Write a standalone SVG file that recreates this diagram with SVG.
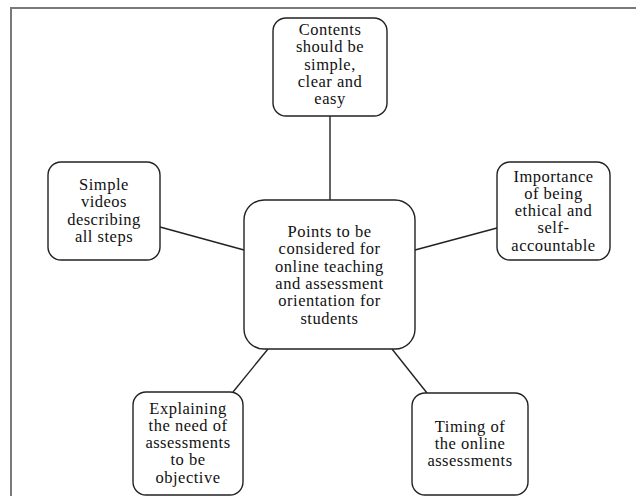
<svg xmlns="http://www.w3.org/2000/svg" width="636" height="496" viewBox="0 0 636 496">
<style>
.frame{fill:none;stroke:#7a7a7a;stroke-width:2}
.box{fill:#fff;stroke:#222;stroke-width:1.4}
.lbl{font-family:"Liberation Serif","Times New Roman",serif;font-size:16.5px;letter-spacing:0.5px;fill:#111;text-anchor:middle}
.edge{stroke:#222;stroke-width:1.4;fill:none}
</style>
<rect width="636" height="496" fill="#fff"/>
<rect class="frame" x="11" y="8" width="640" height="500"/>
<g id="connectors">
<line class="edge" x1="330" y1="116" x2="330" y2="200"/>
<line class="edge" x1="160" y1="227" x2="244" y2="250"/>
<line class="edge" x1="415" y1="250" x2="497" y2="228"/>
<line class="edge" x1="268" y1="349" x2="233" y2="392"/>
<line class="edge" x1="392" y1="349" x2="427" y2="393"/>
</g>
<g id="node-top">
<rect class="box" x="273" y="18" width="114" height="98" rx="13"/>
<text class="lbl"><tspan x="330" y="35">Contents</tspan><tspan x="330" y="52.3">should be</tspan><tspan x="330" y="69.6">simple,</tspan><tspan x="330" y="86.9">clear and</tspan><tspan x="330" y="104.2">easy</tspan></text>
</g>
<g id="node-left">
<rect class="box" x="48" y="162" width="112" height="98" rx="13"/>
<text class="lbl"><tspan x="104" y="190">Simple</tspan><tspan x="104" y="207.3">videos</tspan><tspan x="104" y="224.6">describing</tspan><tspan x="104" y="241.9">all steps</tspan></text>
</g>
<g id="node-right">
<rect class="box" x="497" y="162" width="113" height="98" rx="13"/>
<text class="lbl"><tspan x="553.5" y="181.5">Importance</tspan><tspan x="553.5" y="198.8">of being</tspan><tspan x="553.5" y="216.1">ethical and</tspan><tspan x="553.5" y="233.4">self-</tspan><tspan x="553.5" y="250.7">accountable</tspan></text>
</g>
<g id="node-center">
<rect class="box" x="244" y="200" width="171" height="149" rx="20"/>
<text class="lbl"><tspan x="329.5" y="237">Points to be</tspan><tspan x="329.5" y="254.3">considered for</tspan><tspan x="329.5" y="271.6">online teaching</tspan><tspan x="329.5" y="288.9">and assessment</tspan><tspan x="329.5" y="306.2">orientation for</tspan><tspan x="329.5" y="323.5">students</tspan></text>
</g>
<g id="node-bottom-left">
<rect class="box" x="133" y="392" width="110" height="103" rx="13"/>
<text class="lbl"><tspan x="188" y="413.5">Explaining</tspan><tspan x="188" y="430.8">the need of</tspan><tspan x="188" y="448.1">assessments</tspan><tspan x="188" y="465.4">to be</tspan><tspan x="188" y="482.7">objective</tspan></text>
</g>
<g id="node-bottom-right">
<rect class="box" x="412" y="393" width="116" height="102" rx="13"/>
<text class="lbl"><tspan x="470" y="431.5">Timing of</tspan><tspan x="470" y="448.8">the online</tspan><tspan x="470" y="466.1">assessments</tspan></text>
</g>
</svg>
